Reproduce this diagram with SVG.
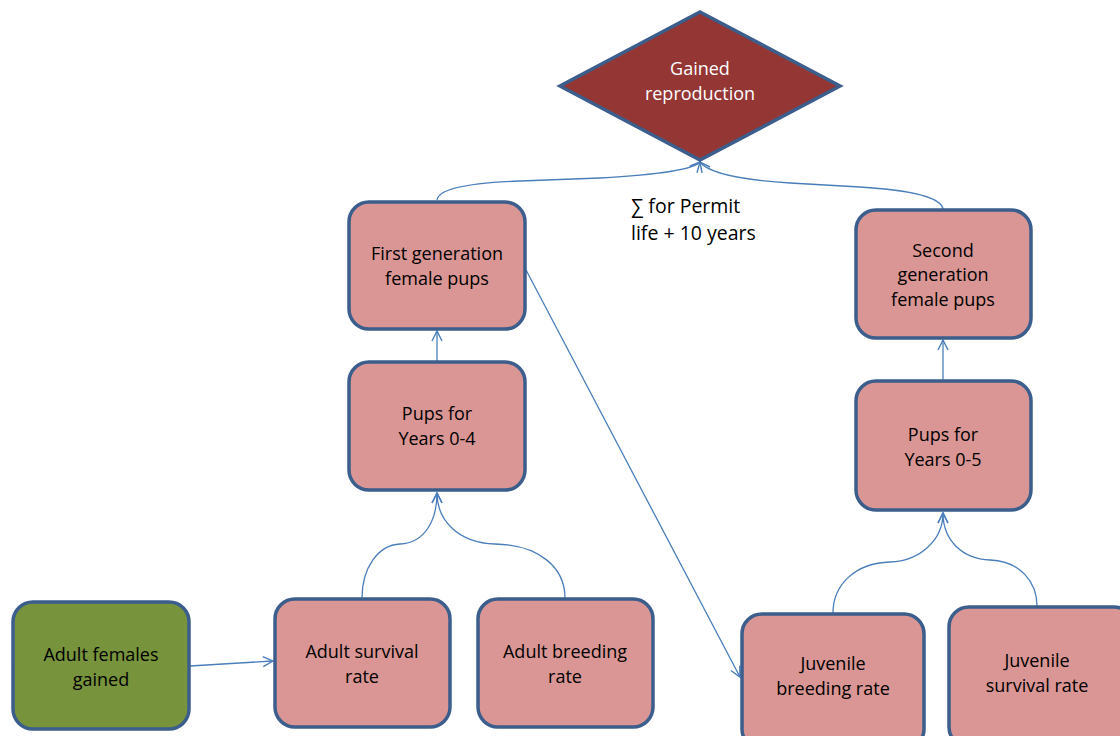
<svg xmlns="http://www.w3.org/2000/svg" width="1120" height="736" viewBox="0 0 1120 736">
<style>
.box{fill:#D99694;stroke:#3B5E8C;stroke-width:3.5}
.green{fill:#77933C;stroke:#3B5E8C;stroke-width:3.5}
.dia{fill:#943634;stroke:#3B5E8C;stroke-width:3.5}
.t{font-family:"Open Sans","Liberation Sans",sans-serif;font-size:18px;fill:#000;text-anchor:middle}
.w{fill:#fff}
.l{text-anchor:start;font-size:19.5px}
.c{fill:none;stroke:#4A7EBB;stroke-width:1.3}
</style>
<defs>
<marker id="arr" viewBox="0 0 12 12" refX="11" refY="6" markerWidth="12" markerHeight="12" markerUnits="userSpaceOnUse" orient="auto">
<path d="M1,1 L11,6 L1,11" fill="none" stroke="#4A7EBB" stroke-width="1.4"/>
</marker>
</defs>
<g id="connectors">
<path class="c" d="M437,200 Q439,184 520,181 L600,178 Q690,173 700,162" marker-end="url(#arr)"/>
<path class="c" d="M943,209 Q940,192 860,187 L790,183 Q712,178 700,162" marker-end="url(#arr)"/>
<path class="c" d="M437,361 L437,331" marker-end="url(#arr)"/>
<path class="c" d="M943,381 L943,340" marker-end="url(#arr)"/>
<path class="c" d="M362,598 C362,568 378,545 400,544 C425,543 437,520 437,493" marker-end="url(#arr)"/>
<path class="c" d="M565,598 C565,568 540,545 495,544 C458,543 437,520 437,493" marker-end="url(#arr)"/>
<path class="c" d="M833,613 C833,585 855,563 890,562 C920,561 943,540 943,513" marker-end="url(#arr)"/>
<path class="c" d="M1037,606 C1037,582 1020,561 990,560 C962,559 943,540 943,513" marker-end="url(#arr)"/>
<path class="c" d="M190,666 L273,661" marker-end="url(#arr)"/>
<path class="c" d="M525,268 L740,677" marker-end="url(#arr)"/>
</g>
<g id="gained-reproduction">
<polygon class="dia" points="700,12 840,86 700,160 560,86"/>
<text class="t w" x="700" y="75">Gained</text>
<text class="t w" x="700" y="100">reproduction</text>
</g>
<g id="sum-label">
<text class="t l" x="631" y="213">∑ for Permit</text>
<text class="t l" x="631" y="240">life + 10 years</text>
</g>
<g id="first-gen">
<rect class="box" x="349" y="202" width="176" height="127" rx="20"/>
<text class="t" x="437" y="260">First generation</text>
<text class="t" x="437" y="285">female pups</text>
</g>
<g id="pups-0-4">
<rect class="box" x="349" y="362" width="176" height="128" rx="20"/>
<text class="t" x="437" y="420">Pups for</text>
<text class="t" x="437" y="445">Years 0-4</text>
</g>
<g id="adult-females">
<rect class="green" x="13" y="602" width="176" height="127" rx="20"/>
<text class="t" x="101" y="661">Adult females</text>
<text class="t" x="101" y="686">gained</text>
</g>
<g id="adult-survival">
<rect class="box" x="275" y="599" width="175" height="128" rx="20"/>
<text class="t" x="362" y="658">Adult survival</text>
<text class="t" x="362" y="683">rate</text>
</g>
<g id="adult-breeding">
<rect class="box" x="478" y="599" width="175" height="128" rx="20"/>
<text class="t" x="565" y="658">Adult breeding</text>
<text class="t" x="565" y="683">rate</text>
</g>
<g id="second-gen">
<rect class="box" x="856" y="210" width="175" height="128" rx="20"/>
<text class="t" x="943" y="257">Second</text>
<text class="t" x="943" y="281">generation</text>
<text class="t" x="943" y="306">female pups</text>
</g>
<g id="pups-0-5">
<rect class="box" x="856" y="381" width="175" height="129" rx="20"/>
<text class="t" x="943" y="441">Pups for</text>
<text class="t" x="943" y="466">Years 0-5</text>
</g>
<g id="juvenile-breeding">
<rect class="box" x="742" y="614" width="182" height="135" rx="20"/>
<text class="t" x="833" y="670">Juvenile</text>
<text class="t" x="833" y="695">breeding rate</text>
</g>
<g id="juvenile-survival">
<rect class="box" x="949" y="607" width="185" height="140" rx="20"/>
<text class="t" x="1037" y="667">Juvenile</text>
<text class="t" x="1037" y="692">survival rate</text>
</g>
</svg>
